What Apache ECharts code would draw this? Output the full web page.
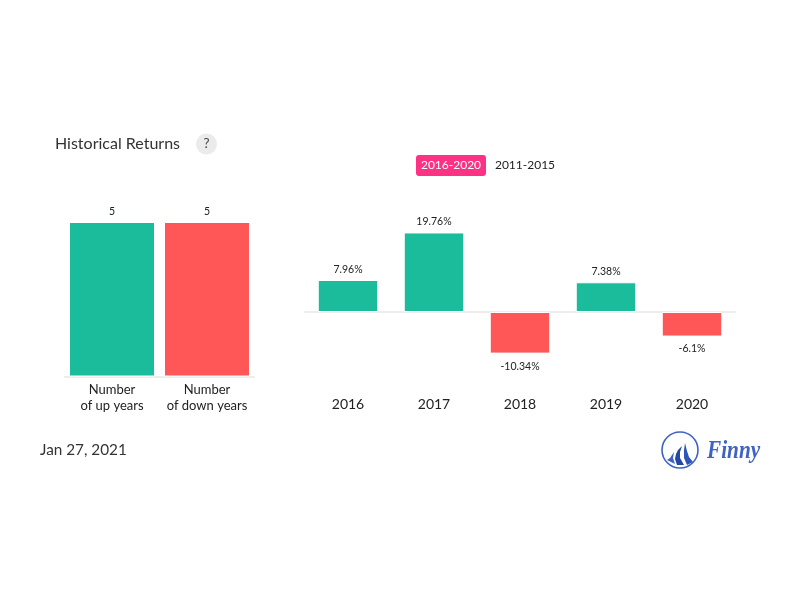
<!DOCTYPE html>
<html><head><meta charset="utf-8">
<style>html,body{margin:0;padding:0;background:#fff}#c{width:800px;height:600px}</style>
<script src="https://cdn.jsdelivr.net/npm/echarts@6/dist/echarts.min.js"></script>
</head><body><div id="c"></div>
<script>
const countCategories = ['Number\nof up years', 'Number\nof down years'];
const countValues = [5, 5];
const years = ['2016', '2017', '2018', '2019', '2020'];
const returns = [7.96, 19.76, -10.34, 7.38, -6.1];
const UP = '#1abc9c', DOWN = '#ff5757', FONT = 'Lato', INK = '#222';

const chart = echarts.init(document.getElementById('c'), null, {renderer: 'canvas'});
const hiddenY = {type: 'value', show: false, splitLine: {show: false}};
const baseLine = {show: true, lineStyle: {color: '#e8e8e8', width: 1.5}};

chart.setOption({
  animation: false,
  backgroundColor: '#fff',
  textStyle: {fontFamily: FONT},
  grid: [
    {left: 64.5, width: 190, top: 222, height: 154.5},
    {left: 305, width: 430, top: 231.5, height: 161}
  ],
  xAxis: [
    {gridIndex: 0, type: 'category', data: countCategories, axisLine: baseLine, axisTick: {show: false},
     axisLabel: {color: INK, fontFamily: FONT, fontSize: 13, lineHeight: 16, margin: 5, interval: 0}},
    {gridIndex: 1, type: 'category', data: years, position: 'bottom', axisLine: {show: false, onZero: false}, axisTick: {show: false},
     axisLabel: {color: INK, fontFamily: FONT, fontSize: 14, margin: 5}},
    {gridIndex: 1, type: 'category', data: years, axisLine: {...baseLine, onZero: true}, axisTick: {show: false}, axisLabel: {show: false}}
  ],
  yAxis: [
    {...hiddenY, gridIndex: 0, min: 0, max: 5},
    {...hiddenY, gridIndex: 1, min: -20, max: 20}
  ],
  series: [
    {type: 'bar', xAxisIndex: 0, yAxisIndex: 0, barWidth: 86,
     data: countValues.map((v, i) => ({value: v, itemStyle: {color: i === 0 ? UP : DOWN}})),
     itemStyle: {borderColor: '#fff', borderWidth: 1},
     label: {show: true, position: 'top', distance: 4.5, color: INK, fontFamily: FONT, fontSize: 10.5}},
    {type: 'bar', xAxisIndex: 1, yAxisIndex: 1, barWidth: 60.5,
     data: returns.map(v => ({value: v, itemStyle: {color: v >= 0 ? UP : DOWN},
       label: {distance: v >= 0 ? 5 : 7}})),
     itemStyle: {borderColor: '#fff', borderWidth: 1},
     label: {show: true, position: 'outside', color: INK, fontFamily: FONT, fontSize: 10.5, formatter: p => p.value + '%'}}
  ],
  graphic: [
    {type: 'text', x: 55, y: 144, style: {text: 'Historical Returns', fontFamily: FONT, fontSize: 16, fill: '#333', verticalAlign: 'middle'}},
    {type: 'circle', shape: {cx: 206.5, cy: 144, r: 10.5}, style: {fill: '#ebebeb'}},
    {type: 'text', x: 206.5, y: 144, style: {text: '?', fontFamily: FONT, fontSize: 13.5, fill: '#444', align: 'center', verticalAlign: 'middle'}},
    {type: 'rect', shape: {x: 416, y: 155, width: 70, height: 21, r: 3}, style: {fill: '#fc3384'}},
    {type: 'text', x: 451, y: 165, style: {text: '2016-2020', fontFamily: FONT, fontSize: 12, fill: '#fff', align: 'center', verticalAlign: 'middle'}},
    {type: 'text', x: 525, y: 165, style: {text: '2011-2015', fontFamily: FONT, fontSize: 12, fill: '#222', align: 'center', verticalAlign: 'middle'}},
    {type: 'text', x: 40, y: 450.5, style: {text: 'Jan 27, 2021', fontFamily: FONT, fontSize: 15.3, fill: '#333', verticalAlign: 'middle'}},
    {type: 'circle', shape: {cx: 680, cy: 450, r: 18}, style: {fill: 'none', stroke: '#3f63c4', lineWidth: 1.6}},
    {type: 'polygon', shape: {points: [[667,460],[670,458],[672,455],[674,452],[673,458],[675,464]]}, style: {fill: '#3f63c4'}},
    {type: 'polygon', shape: {points: [[677,465],[675,459],[676,454],[678,450],[682,446],[680,452],[680,458],[684,465]]}, style: {fill: '#24479f'}},
    {type: 'polygon', shape: {points: [[685,443],[684,450],[684,458],[687,465],[693,462],[689,457],[687,451]]}, style: {fill: '#2f55b5'}},
    {type: 'text', x: 707, y: 452, scaleX: 0.85, style: {text: 'Finny', fontFamily: 'Liberation Serif', fontStyle: 'italic', fontWeight: 'bold', fontSize: 25, fill: '#3f63c4', align: 'left', verticalAlign: 'middle'}}
  ]
});
</script></body></html>
